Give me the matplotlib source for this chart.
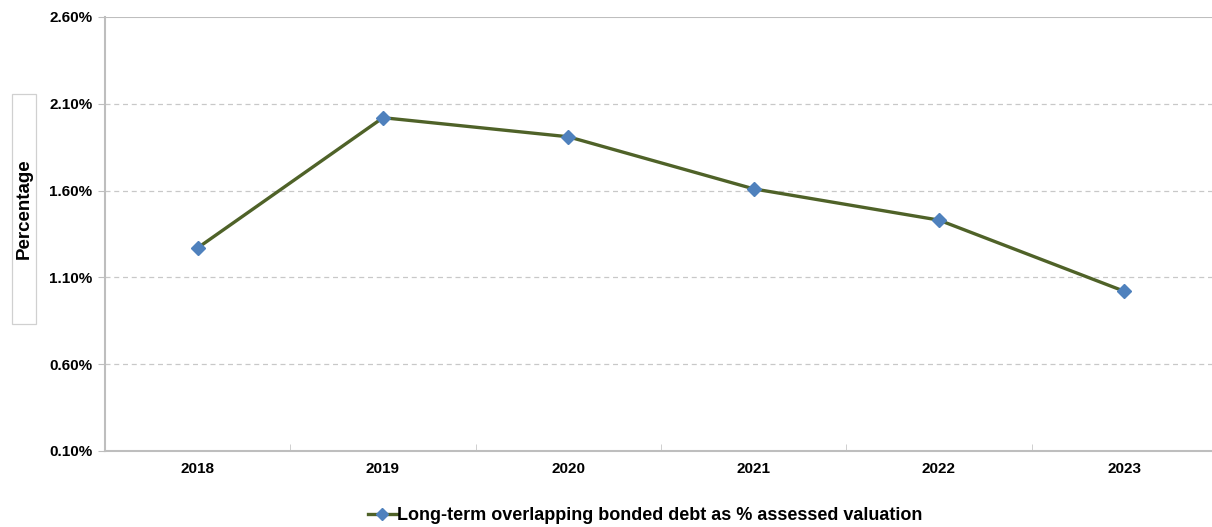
import matplotlib.pyplot as plt
import matplotlib.patches as patches
import numpy as np

# data
years = ["2018", "2019", "2020", "2021", "2022", "2023"]
debt_pct = [1.27, 2.02, 1.91, 1.61, 1.43, 1.02]
y_ticks = [0.10, 0.60, 1.10, 1.60, 2.10, 2.60]
series_name = "Long-term overlapping bonded debt as % assessed valuation"

plt.rcParams['font.family'] = ['Liberation Sans', 'DejaVu Sans']
plt.rcParams['font.weight'] = 'bold'

fig = plt.figure(figsize=(12.12, 5.27), dpi=100)
# the plot area runs a little past the right edge of the picture
ax = fig.add_axes([105 / 1212, 76 / 527, 1112 / 1212, 434 / 527])

x = np.arange(len(years))
line, = ax.plot(x, debt_pct, color='#4F6228', linewidth=2.4, marker='D',
                markersize=7, markerfacecolor='#4F81BD', markeredgecolor='#4F81BD',
                zorder=3, clip_on=False)

ax.set_xlim(-0.5, len(years) - 0.5)
ax.set_ylim(y_ticks[0], y_ticks[-1])
ax.set_yticks(y_ticks)
ax.set_yticklabels(["{:.2f}%".format(v) for v in y_ticks], fontsize=11, fontweight='bold')
ax.set_xticks(x)
ax.set_xticklabels(years, fontsize=11, fontweight='bold')
ax.tick_params(axis='x', length=0, pad=8)
ax.set_xticks(np.arange(-0.5, len(years), 1), minor=True)
ax.tick_params(axis='x', which='minor', length=5, color='#C8C8C8', direction='in')
ax.tick_params(axis='y', length=5, color='#BEBEBE', pad=4)

for v in y_ticks[1:-1]:
    ax.axhline(v, color='#C8C8C8', linewidth=0.9, linestyle=(0, (4, 3)), zorder=1)
ax.axhline(y_ticks[-1], color='#BEBEBE', linewidth=1.5, zorder=1)

for s in ['top', 'right']:
    ax.spines[s].set_visible(False)
for s in ['left', 'bottom']:
    ax.spines[s].set_color('#BEBEBE')
    ax.spines[s].set_linewidth(1.5)

# y label in a box
box = patches.Rectangle((12 / 1212, 1 - 324 / 527), 24 / 1212, 230 / 527,
                        transform=fig.transFigure, fill=False,
                        edgecolor='#D0D0D0', linewidth=0.9)
fig.patches.append(box)
fig.text(24 / 1212, 1 - 209 / 527, "Percentage", rotation=90, ha='center', va='center',
         fontsize=13.5, fontweight='bold')

leg = fig.legend([line], [series_name], loc='center', bbox_to_anchor=(0.532, 1 - 516 / 527),
                 frameon=False, handlelength=1.6, handletextpad=0.0, markerscale=0.85,
                 prop={'size': 13, 'weight': 'bold'})

fig.savefig("out.png", dpi=100)
